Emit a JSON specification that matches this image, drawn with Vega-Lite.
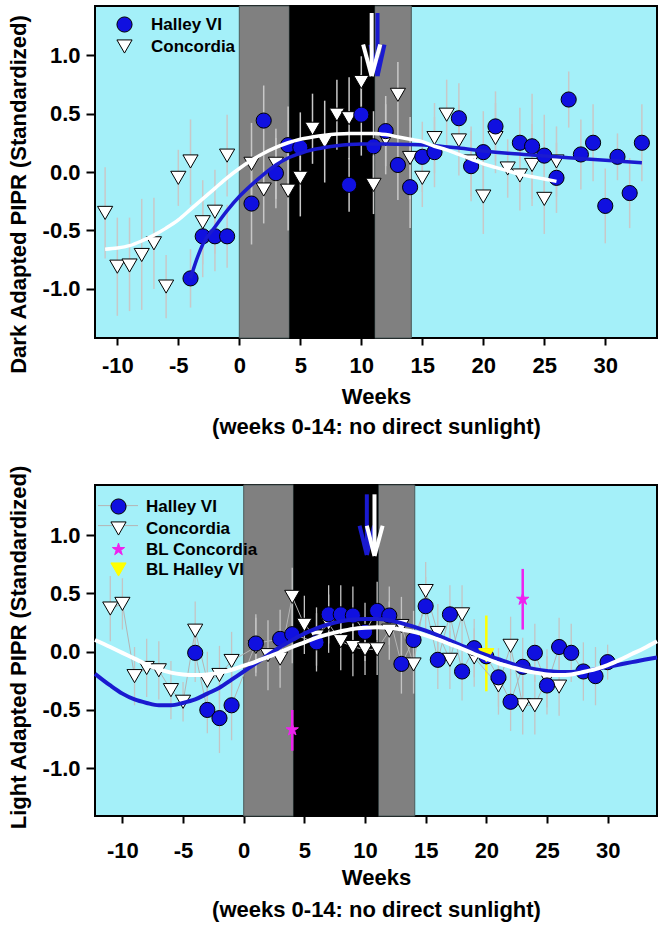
{
  "$schema": "https://vega.github.io/schema/vega-lite/v6.json",
  "padding": {"left": 6, "top": 4, "right": 4, "bottom": 4},
  "config": {
    "font": "Liberation Sans",
    "view": {"stroke": "black", "strokeWidth": 2, "fill": "#a4f0f9"},
    "axis": {"domain": false, "grid": false, "tickColor": "black", "tickWidth": 2, "labelFont": "Liberation Sans", "labelFontWeight": "bold", "labelFontSize": 22, "labelColor": "black", "titleFont": "Liberation Sans", "titleFontWeight": "bold", "titleFontSize": 22, "titleColor": "black"}
  },
  "resolve": {
    "legend": {"fill": "independent", "shape": "independent", "stroke": "independent", "opacity": "independent"}
  },
  "datasets": {
    "bands": [
      {"kind": "twilight", "start": 0, "end": 4.1},
      {"kind": "night", "start": 4.1, "end": 11.1},
      {"kind": "twilight", "start": 11.1, "end": 14.1}
    ],
    "dark": [
      {"series": "Concordia", "week": -11, "value": -0.35, "lo": -0.74, "hi": 0.04},
      {"series": "Concordia", "week": -10, "value": -0.81, "lo": -1.23, "hi": -0.39},
      {"series": "Concordia", "week": -9, "value": -0.80, "lo": -1.19, "hi": -0.39},
      {"series": "Concordia", "week": -8, "value": -0.71, "lo": -1.18, "hi": -0.23},
      {"series": "Concordia", "week": -7, "value": -0.61, "lo": -1.00, "hi": -0.22},
      {"series": "Concordia", "week": -6, "value": -0.98, "lo": -1.25, "hi": -0.71},
      {"series": "Concordia", "week": -5, "value": -0.05, "lo": -0.29, "hi": 0.19},
      {"series": "Concordia", "week": -4, "value": 0.09, "lo": -0.28, "hi": 0.45},
      {"series": "Concordia", "week": -3, "value": -0.43, "lo": -0.79, "hi": -0.07},
      {"series": "Concordia", "week": -2, "value": -0.34, "lo": -0.70, "hi": 0.02},
      {"series": "Concordia", "week": -1, "value": 0.14, "lo": -0.21, "hi": 0.49},
      {"series": "Concordia", "week": 1, "value": 0.07, "lo": -0.28, "hi": 0.42},
      {"series": "Concordia", "week": 2, "value": -0.15, "lo": -0.44, "hi": 0.14},
      {"series": "Concordia", "week": 3, "value": 0.07, "lo": -0.23, "hi": 0.37},
      {"series": "Concordia", "week": 4, "value": -0.16, "lo": -0.50, "hi": 0.18},
      {"series": "Concordia", "week": 5, "value": -0.05, "lo": -0.38, "hi": 0.28},
      {"series": "Concordia", "week": 6, "value": 0.37, "lo": 0.07, "hi": 0.67},
      {"series": "Concordia", "week": 7, "value": 0.26, "lo": -0.09, "hi": 0.61},
      {"series": "Concordia", "week": 8, "value": 0.49, "lo": 0.19, "hi": 0.79},
      {"series": "Concordia", "week": 9, "value": 0.46, "lo": 0.11, "hi": 0.81},
      {"series": "Concordia", "week": 10, "value": 0.77, "lo": 0.47, "hi": 0.99},
      {"series": "Concordia", "week": 11, "value": -0.11, "lo": -0.36, "hi": 0.14},
      {"series": "Concordia", "week": 12, "value": 0.28, "lo": -0.02, "hi": 0.58},
      {"series": "Concordia", "week": 13, "value": 0.66, "lo": 0.36, "hi": 0.94},
      {"series": "Concordia", "week": 14, "value": 0.12, "lo": -0.23, "hi": 0.47},
      {"series": "Concordia", "week": 15, "value": -0.05, "lo": -0.30, "hi": 0.20},
      {"series": "Concordia", "week": 16, "value": 0.29, "lo": -0.01, "hi": 0.59},
      {"series": "Concordia", "week": 17, "value": 0.49, "lo": 0.19, "hi": 0.79},
      {"series": "Concordia", "week": 18, "value": 0.27, "lo": -0.03, "hi": 0.57},
      {"series": "Concordia", "week": 19, "value": 0.09, "lo": -0.21, "hi": 0.39},
      {"series": "Concordia", "week": 20, "value": -0.21, "lo": -0.53, "hi": 0.11},
      {"series": "Concordia", "week": 21, "value": 0.29, "lo": -0.01, "hi": 0.59},
      {"series": "Concordia", "week": 22, "value": 0.03, "lo": -0.22, "hi": 0.28},
      {"series": "Concordia", "week": 23, "value": -0.03, "lo": -0.33, "hi": 0.27},
      {"series": "Concordia", "week": 24, "value": 0.06, "lo": -0.29, "hi": 0.41},
      {"series": "Concordia", "week": 25, "value": -0.23, "lo": -0.53, "hi": 0.07},
      {"series": "Concordia", "week": 26, "value": 0.09, "lo": -0.21, "hi": 0.39},
      {"series": "Halley VI", "week": -4, "value": -0.91, "lo": -1.16, "hi": -0.66},
      {"series": "Halley VI", "week": -3, "value": -0.55, "lo": -0.90, "hi": -0.20},
      {"series": "Halley VI", "week": -2, "value": -0.55, "lo": -0.85, "hi": -0.25},
      {"series": "Halley VI", "week": -1, "value": -0.55, "lo": -0.82, "hi": -0.28},
      {"series": "Halley VI", "week": 1, "value": -0.27, "lo": -0.62, "hi": 0.08},
      {"series": "Halley VI", "week": 2, "value": 0.44, "lo": 0.14, "hi": 0.74},
      {"series": "Halley VI", "week": 3, "value": -0.01, "lo": -0.31, "hi": 0.29},
      {"series": "Halley VI", "week": 4, "value": 0.23, "lo": -0.10, "hi": 0.56},
      {"series": "Halley VI", "week": 5, "value": 0.21, "lo": -0.09, "hi": 0.51},
      {"series": "Halley VI", "week": 9, "value": -0.11, "lo": -0.34, "hi": 0.12},
      {"series": "Halley VI", "week": 10, "value": 0.49, "lo": 0.14, "hi": 0.84},
      {"series": "Halley VI", "week": 11, "value": 0.22, "lo": -0.08, "hi": 0.52},
      {"series": "Halley VI", "week": 12, "value": 0.35, "lo": 0.05, "hi": 0.65},
      {"series": "Halley VI", "week": 13, "value": 0.06, "lo": -0.24, "hi": 0.36},
      {"series": "Halley VI", "week": 14, "value": -0.13, "lo": -0.48, "hi": 0.22},
      {"series": "Halley VI", "week": 15, "value": 0.13, "lo": -0.17, "hi": 0.43},
      {"series": "Halley VI", "week": 16, "value": 0.17, "lo": -0.13, "hi": 0.47},
      {"series": "Halley VI", "week": 18, "value": 0.46, "lo": 0.16, "hi": 0.76},
      {"series": "Halley VI", "week": 19, "value": 0.05, "lo": -0.25, "hi": 0.35},
      {"series": "Halley VI", "week": 20, "value": 0.17, "lo": -0.18, "hi": 0.52},
      {"series": "Halley VI", "week": 21, "value": 0.39, "lo": 0.09, "hi": 0.69},
      {"series": "Halley VI", "week": 23, "value": 0.25, "lo": -0.05, "hi": 0.55},
      {"series": "Halley VI", "week": 24, "value": 0.22, "lo": -0.23, "hi": 0.67},
      {"series": "Halley VI", "week": 25, "value": 0.14, "lo": -0.21, "hi": 0.49},
      {"series": "Halley VI", "week": 26, "value": -0.05, "lo": -0.35, "hi": 0.25},
      {"series": "Halley VI", "week": 27, "value": 0.62, "lo": 0.38, "hi": 0.86},
      {"series": "Halley VI", "week": 28, "value": 0.15, "lo": -0.15, "hi": 0.45},
      {"series": "Halley VI", "week": 29, "value": 0.25, "lo": -0.08, "hi": 0.58},
      {"series": "Halley VI", "week": 30, "value": -0.29, "lo": -0.61, "hi": 0.03},
      {"series": "Halley VI", "week": 31, "value": 0.13, "lo": -0.07, "hi": 0.33},
      {"series": "Halley VI", "week": 32, "value": -0.18, "lo": -0.48, "hi": 0.12},
      {"series": "Halley VI", "week": 33, "value": 0.25, "lo": -0.08, "hi": 0.58}
    ],
    "darkFit": [
      {"series": "Halley VI", "week": -4, "value": -0.91},
      {"series": "Halley VI", "week": -3.5, "value": -0.75},
      {"series": "Halley VI", "week": -3, "value": -0.62},
      {"series": "Halley VI", "week": -2, "value": -0.47},
      {"series": "Halley VI", "week": -1, "value": -0.33},
      {"series": "Halley VI", "week": 0, "value": -0.21},
      {"series": "Halley VI", "week": 1, "value": -0.11},
      {"series": "Halley VI", "week": 2, "value": -0.02},
      {"series": "Halley VI", "week": 3, "value": 0.06},
      {"series": "Halley VI", "week": 4, "value": 0.12},
      {"series": "Halley VI", "week": 5, "value": 0.16},
      {"series": "Halley VI", "week": 6, "value": 0.19},
      {"series": "Halley VI", "week": 7, "value": 0.21},
      {"series": "Halley VI", "week": 8, "value": 0.225},
      {"series": "Halley VI", "week": 9, "value": 0.235},
      {"series": "Halley VI", "week": 10, "value": 0.24},
      {"series": "Halley VI", "week": 12, "value": 0.24},
      {"series": "Halley VI", "week": 14, "value": 0.235},
      {"series": "Halley VI", "week": 16, "value": 0.225},
      {"series": "Halley VI", "week": 18, "value": 0.205},
      {"series": "Halley VI", "week": 20, "value": 0.18},
      {"series": "Halley VI", "week": 22, "value": 0.16},
      {"series": "Halley VI", "week": 24, "value": 0.145},
      {"series": "Halley VI", "week": 26, "value": 0.13},
      {"series": "Halley VI", "week": 28, "value": 0.115},
      {"series": "Halley VI", "week": 30, "value": 0.10},
      {"series": "Halley VI", "week": 33, "value": 0.08},
      {"series": "Concordia", "week": -11, "value": -0.66},
      {"series": "Concordia", "week": -10, "value": -0.65},
      {"series": "Concordia", "week": -9, "value": -0.63},
      {"series": "Concordia", "week": -8, "value": -0.59},
      {"series": "Concordia", "week": -7, "value": -0.54},
      {"series": "Concordia", "week": -6, "value": -0.48},
      {"series": "Concordia", "week": -5, "value": -0.41},
      {"series": "Concordia", "week": -4, "value": -0.32},
      {"series": "Concordia", "week": -3, "value": -0.23},
      {"series": "Concordia", "week": -2, "value": -0.14},
      {"series": "Concordia", "week": -1, "value": -0.05},
      {"series": "Concordia", "week": 0, "value": 0.03},
      {"series": "Concordia", "week": 1, "value": 0.10},
      {"series": "Concordia", "week": 2, "value": 0.16},
      {"series": "Concordia", "week": 3, "value": 0.21},
      {"series": "Concordia", "week": 4, "value": 0.25},
      {"series": "Concordia", "week": 5, "value": 0.28},
      {"series": "Concordia", "week": 6, "value": 0.30},
      {"series": "Concordia", "week": 7, "value": 0.315},
      {"series": "Concordia", "week": 8, "value": 0.325},
      {"series": "Concordia", "week": 9, "value": 0.33},
      {"series": "Concordia", "week": 11, "value": 0.33},
      {"series": "Concordia", "week": 12, "value": 0.32},
      {"series": "Concordia", "week": 13, "value": 0.30},
      {"series": "Concordia", "week": 14, "value": 0.28},
      {"series": "Concordia", "week": 15, "value": 0.26},
      {"series": "Concordia", "week": 16, "value": 0.22},
      {"series": "Concordia", "week": 17, "value": 0.19},
      {"series": "Concordia", "week": 18, "value": 0.15},
      {"series": "Concordia", "week": 19, "value": 0.11},
      {"series": "Concordia", "week": 20, "value": 0.07},
      {"series": "Concordia", "week": 21, "value": 0.04},
      {"series": "Concordia", "week": 22, "value": 0.01},
      {"series": "Concordia", "week": 23, "value": -0.02},
      {"series": "Concordia", "week": 24, "value": -0.04},
      {"series": "Concordia", "week": 25, "value": -0.06},
      {"series": "Concordia", "week": 26, "value": -0.08}
    ],
    "darkArrows": [
      {"series": "blue", "x": 11.33, "y": 1.36, "x2": 11.33, "y2": 0.83},
      {"series": "blue", "x": 10.75, "y": 1.09, "x2": 11.33, "y2": 0.82},
      {"series": "blue", "x": 11.9, "y": 1.09, "x2": 11.33, "y2": 0.82},
      {"series": "white", "x": 10.85, "y": 1.36, "x2": 10.85, "y2": 0.83},
      {"series": "white", "x": 10.15, "y": 1.09, "x2": 10.85, "y2": 0.82},
      {"series": "white", "x": 11.55, "y": 1.09, "x2": 10.85, "y2": 0.82}
    ],
    "light": [
      {"series": "Concordia", "week": -11, "value": 0.37, "lo": 0.09, "hi": 0.65},
      {"series": "Concordia", "week": -10, "value": 0.41, "lo": 0.19, "hi": 0.63},
      {"series": "Concordia", "week": -9, "value": -0.21, "lo": -0.46, "hi": 0.04},
      {"series": "Concordia", "week": -8, "value": -0.14, "lo": -0.39, "hi": 0.11},
      {"series": "Concordia", "week": -7, "value": -0.16, "lo": -0.41, "hi": 0.09},
      {"series": "Concordia", "week": -6, "value": -0.33, "lo": -0.58, "hi": -0.08},
      {"series": "Concordia", "week": -5, "value": -0.43, "lo": -0.60, "hi": -0.26},
      {"series": "Concordia", "week": -4, "value": 0.18, "lo": -0.07, "hi": 0.43},
      {"series": "Concordia", "week": -3, "value": -0.25, "lo": -0.50, "hi": 0.00},
      {"series": "Concordia", "week": -2, "value": -0.20, "lo": -0.45, "hi": 0.05},
      {"series": "Concordia", "week": -1, "value": -0.08, "lo": -0.33, "hi": 0.17},
      {"series": "Concordia", "week": 1, "value": 0.04, "lo": -0.21, "hi": 0.29},
      {"series": "Concordia", "week": 2, "value": -0.03, "lo": -0.33, "hi": 0.27},
      {"series": "Concordia", "week": 3, "value": -0.06, "lo": -0.31, "hi": 0.19},
      {"series": "Concordia", "week": 4, "value": 0.47, "lo": 0.22, "hi": 0.72},
      {"series": "Concordia", "week": 5, "value": 0.23, "lo": -0.02, "hi": 0.48},
      {"series": "Concordia", "week": 6, "value": 0.13, "lo": -0.12, "hi": 0.38},
      {"series": "Concordia", "week": 7, "value": 0.24, "lo": -0.01, "hi": 0.49},
      {"series": "Concordia", "week": 8, "value": 0.09, "lo": -0.16, "hi": 0.34},
      {"series": "Concordia", "week": 9, "value": 0.04, "lo": -0.21, "hi": 0.29},
      {"series": "Concordia", "week": 10, "value": 0.02, "lo": -0.20, "hi": 0.24},
      {"series": "Concordia", "week": 11, "value": 0.02, "lo": -0.20, "hi": 0.24},
      {"series": "Concordia", "week": 12, "value": 0.18, "lo": -0.07, "hi": 0.43},
      {"series": "Concordia", "week": 13, "value": 0.22, "lo": -0.03, "hi": 0.47},
      {"series": "Concordia", "week": 14, "value": -0.11, "lo": -0.36, "hi": 0.14},
      {"series": "Concordia", "week": 15, "value": 0.52, "lo": 0.27, "hi": 0.77},
      {"series": "Concordia", "week": 16, "value": 0.16, "lo": -0.09, "hi": 0.41},
      {"series": "Concordia", "week": 17, "value": -0.07, "lo": -0.32, "hi": 0.18},
      {"series": "Concordia", "week": 18, "value": 0.32, "lo": 0.07, "hi": 0.57},
      {"series": "Concordia", "week": 19, "value": -0.05, "lo": -0.30, "hi": 0.20},
      {"series": "Concordia", "week": 21, "value": -0.29, "lo": -0.54, "hi": -0.04},
      {"series": "Concordia", "week": 22, "value": 0.05, "lo": -0.20, "hi": 0.30},
      {"series": "Concordia", "week": 23, "value": -0.46, "lo": -0.71, "hi": -0.21},
      {"series": "Concordia", "week": 24, "value": -0.46, "lo": -0.71, "hi": -0.21},
      {"series": "Concordia", "week": 25, "value": -0.23, "lo": -0.48, "hi": 0.02},
      {"series": "Concordia", "week": 26, "value": -0.30, "lo": -0.55, "hi": -0.05},
      {"series": "Halley VI", "week": -4, "value": -0.01, "lo": -0.26, "hi": 0.24},
      {"series": "Halley VI", "week": -3, "value": -0.50, "lo": -0.70, "hi": -0.30},
      {"series": "Halley VI", "week": -2, "value": -0.57, "lo": -0.87, "hi": -0.27},
      {"series": "Halley VI", "week": -1, "value": -0.46, "lo": -0.76, "hi": -0.16},
      {"series": "Halley VI", "week": 1, "value": 0.07, "lo": -0.18, "hi": 0.32},
      {"series": "Halley VI", "week": 3, "value": 0.11, "lo": -0.14, "hi": 0.36},
      {"series": "Halley VI", "week": 4, "value": 0.15, "lo": -0.10, "hi": 0.40},
      {"series": "Halley VI", "week": 6, "value": 0.08, "lo": -0.17, "hi": 0.33},
      {"series": "Halley VI", "week": 7, "value": 0.32, "lo": 0.07, "hi": 0.57},
      {"series": "Halley VI", "week": 8, "value": 0.32, "lo": 0.07, "hi": 0.57},
      {"series": "Halley VI", "week": 9, "value": 0.31, "lo": 0.06, "hi": 0.56},
      {"series": "Halley VI", "week": 10, "value": 0.17, "lo": -0.08, "hi": 0.42},
      {"series": "Halley VI", "week": 11, "value": 0.35, "lo": 0.10, "hi": 0.60},
      {"series": "Halley VI", "week": 12, "value": 0.31, "lo": 0.06, "hi": 0.56},
      {"series": "Halley VI", "week": 13, "value": -0.105, "lo": -0.36, "hi": 0.15},
      {"series": "Halley VI", "week": 14, "value": 0.10, "lo": -0.15, "hi": 0.35},
      {"series": "Halley VI", "week": 15, "value": 0.39, "lo": 0.14, "hi": 0.64},
      {"series": "Halley VI", "week": 16, "value": -0.07, "lo": -0.32, "hi": 0.18},
      {"series": "Halley VI", "week": 17, "value": 0.32, "lo": 0.07, "hi": 0.57},
      {"series": "Halley VI", "week": 18, "value": -0.17, "lo": -0.42, "hi": 0.08},
      {"series": "Halley VI", "week": 19, "value": 0.03, "lo": -0.22, "hi": 0.28},
      {"series": "Halley VI", "week": 20, "value": -0.04, "lo": -0.29, "hi": 0.21},
      {"series": "Halley VI", "week": 21, "value": -0.22, "lo": -0.47, "hi": 0.03},
      {"series": "Halley VI", "week": 22, "value": -0.43, "lo": -0.68, "hi": -0.18},
      {"series": "Halley VI", "week": 23, "value": -0.13, "lo": -0.38, "hi": 0.12},
      {"series": "Halley VI", "week": 24, "value": -0.01, "lo": -0.26, "hi": 0.24},
      {"series": "Halley VI", "week": 25, "value": -0.29, "lo": -0.54, "hi": -0.04},
      {"series": "Halley VI", "week": 26, "value": 0.04, "lo": -0.21, "hi": 0.29},
      {"series": "Halley VI", "week": 27, "value": -0.01, "lo": -0.26, "hi": 0.24},
      {"series": "Halley VI", "week": 28, "value": -0.17, "lo": -0.42, "hi": 0.08},
      {"series": "Halley VI", "week": 29, "value": -0.21, "lo": -0.46, "hi": 0.04},
      {"series": "Halley VI", "week": 30, "value": -0.09, "lo": -0.24, "hi": 0.06},
      {"series": "BL Concordia", "week": 4, "value": -0.67, "lo": -0.85, "hi": -0.50},
      {"series": "BL Concordia", "week": 23, "value": 0.45, "lo": 0.19, "hi": 0.71},
      {"series": "BL Halley VI", "week": 20, "value": -0.03, "lo": -0.34, "hi": 0.31}
    ],
    "lightFit": [
      {"series": "Halley VI", "week": -12.26, "value": -0.19},
      {"series": "Halley VI", "week": -11, "value": -0.29},
      {"series": "Halley VI", "week": -10, "value": -0.36},
      {"series": "Halley VI", "week": -9, "value": -0.41},
      {"series": "Halley VI", "week": -8, "value": -0.44},
      {"series": "Halley VI", "week": -7, "value": -0.46},
      {"series": "Halley VI", "week": -6, "value": -0.46},
      {"series": "Halley VI", "week": -5, "value": -0.44},
      {"series": "Halley VI", "week": -4, "value": -0.41},
      {"series": "Halley VI", "week": -3, "value": -0.36},
      {"series": "Halley VI", "week": -2, "value": -0.31},
      {"series": "Halley VI", "week": -1, "value": -0.24},
      {"series": "Halley VI", "week": 0, "value": -0.17},
      {"series": "Halley VI", "week": 1, "value": -0.10},
      {"series": "Halley VI", "week": 2, "value": -0.03},
      {"series": "Halley VI", "week": 3, "value": 0.04},
      {"series": "Halley VI", "week": 4, "value": 0.10},
      {"series": "Halley VI", "week": 5, "value": 0.155},
      {"series": "Halley VI", "week": 6, "value": 0.20},
      {"series": "Halley VI", "week": 7, "value": 0.235},
      {"series": "Halley VI", "week": 8, "value": 0.26},
      {"series": "Halley VI", "week": 9, "value": 0.275},
      {"series": "Halley VI", "week": 10, "value": 0.28},
      {"series": "Halley VI", "week": 11, "value": 0.28},
      {"series": "Halley VI", "week": 12, "value": 0.27},
      {"series": "Halley VI", "week": 13, "value": 0.245},
      {"series": "Halley VI", "week": 14, "value": 0.215},
      {"series": "Halley VI", "week": 15, "value": 0.18},
      {"series": "Halley VI", "week": 16, "value": 0.14},
      {"series": "Halley VI", "week": 17, "value": 0.095},
      {"series": "Halley VI", "week": 18, "value": 0.05},
      {"series": "Halley VI", "week": 19, "value": 0.01},
      {"series": "Halley VI", "week": 20, "value": -0.03},
      {"series": "Halley VI", "week": 21, "value": -0.065},
      {"series": "Halley VI", "week": 22, "value": -0.10},
      {"series": "Halley VI", "week": 23, "value": -0.13},
      {"series": "Halley VI", "week": 24, "value": -0.15},
      {"series": "Halley VI", "week": 25, "value": -0.165},
      {"series": "Halley VI", "week": 26, "value": -0.175},
      {"series": "Halley VI", "week": 27, "value": -0.175},
      {"series": "Halley VI", "week": 28, "value": -0.165},
      {"series": "Halley VI", "week": 29, "value": -0.15},
      {"series": "Halley VI", "week": 30, "value": -0.13},
      {"series": "Halley VI", "week": 31, "value": -0.11},
      {"series": "Halley VI", "week": 32, "value": -0.09},
      {"series": "Halley VI", "week": 33, "value": -0.07},
      {"series": "Halley VI", "week": 34.07, "value": -0.05},
      {"series": "Concordia", "week": -12.26, "value": 0.10},
      {"series": "Concordia", "week": -11, "value": 0.04},
      {"series": "Concordia", "week": -10, "value": -0.01},
      {"series": "Concordia", "week": -9, "value": -0.06},
      {"series": "Concordia", "week": -8, "value": -0.11},
      {"series": "Concordia", "week": -7, "value": -0.15},
      {"series": "Concordia", "week": -6, "value": -0.18},
      {"series": "Concordia", "week": -5, "value": -0.195},
      {"series": "Concordia", "week": -4, "value": -0.20},
      {"series": "Concordia", "week": -3, "value": -0.195},
      {"series": "Concordia", "week": -2, "value": -0.18},
      {"series": "Concordia", "week": -1, "value": -0.155},
      {"series": "Concordia", "week": 0, "value": -0.12},
      {"series": "Concordia", "week": 1, "value": -0.085},
      {"series": "Concordia", "week": 2, "value": -0.045},
      {"series": "Concordia", "week": 3, "value": -0.005},
      {"series": "Concordia", "week": 4, "value": 0.04},
      {"series": "Concordia", "week": 5, "value": 0.08},
      {"series": "Concordia", "week": 6, "value": 0.12},
      {"series": "Concordia", "week": 7, "value": 0.15},
      {"series": "Concordia", "week": 8, "value": 0.175},
      {"series": "Concordia", "week": 9, "value": 0.195},
      {"series": "Concordia", "week": 10, "value": 0.205},
      {"series": "Concordia", "week": 11, "value": 0.21},
      {"series": "Concordia", "week": 12, "value": 0.205},
      {"series": "Concordia", "week": 13, "value": 0.19},
      {"series": "Concordia", "week": 14, "value": 0.17},
      {"series": "Concordia", "week": 15, "value": 0.14},
      {"series": "Concordia", "week": 16, "value": 0.105},
      {"series": "Concordia", "week": 17, "value": 0.065},
      {"series": "Concordia", "week": 18, "value": 0.025},
      {"series": "Concordia", "week": 19, "value": -0.02},
      {"series": "Concordia", "week": 20, "value": -0.06},
      {"series": "Concordia", "week": 21, "value": -0.10},
      {"series": "Concordia", "week": 22, "value": -0.13},
      {"series": "Concordia", "week": 23, "value": -0.16},
      {"series": "Concordia", "week": 24, "value": -0.18},
      {"series": "Concordia", "week": 25, "value": -0.195},
      {"series": "Concordia", "week": 26, "value": -0.20},
      {"series": "Concordia", "week": 27, "value": -0.195},
      {"series": "Concordia", "week": 28, "value": -0.175},
      {"series": "Concordia", "week": 29, "value": -0.15},
      {"series": "Concordia", "week": 30, "value": -0.115},
      {"series": "Concordia", "week": 31, "value": -0.07},
      {"series": "Concordia", "week": 32, "value": -0.02},
      {"series": "Concordia", "week": 33, "value": 0.03},
      {"series": "Concordia", "week": 34.07, "value": 0.09}
    ],
    "lightArrows": [
      {"series": "blue", "x": 10.15, "y": 1.35, "x2": 10.15, "y2": 0.83},
      {"series": "blue", "x": 9.55, "y": 1.08, "x2": 10.15, "y2": 0.83},
      {"series": "blue", "x": 10.75, "y": 1.08, "x2": 10.15, "y2": 0.83},
      {"series": "white", "x": 10.78, "y": 1.35, "x2": 10.78, "y2": 0.83},
      {"series": "white", "x": 10.15, "y": 1.08, "x2": 10.78, "y2": 0.82},
      {"series": "white", "x": 11.45, "y": 1.08, "x2": 10.78, "y2": 0.82}
    ]
  },
  "vconcat": [
    {
      "width": 562,
      "height": 332,
      "layer": [
        {
          "data": {"name": "bands"},
          "transform": [{"filter": "datum.kind == 'twilight'"}],
          "mark": {"type": "rect", "color": "#808080", "stroke": "#4a5a5a", "strokeWidth": 1},
          "encoding": {
            "x": {"field": "start", "type": "quantitative", "title": ["Weeks", "(weeks 0-14: no direct sunlight)"], "scale": {"domain": [-11.83, 34.24], "nice": false, "zero": false},
              "axis": {"values": [-10, -5, 0, 5, 10, 15, 20, 25, 30], "tickSize": 7, "labelPadding": 10, "labelExpr": "datum.value < 0 ? '-' + format(-datum.value, 'd') : format(datum.value, 'd')", "titlePadding": 10, "titleLineHeight": 30}},
            "x2": {"field": "end"}
          }
        },
        {
          "data": {"name": "bands"},
          "transform": [{"filter": "datum.kind == 'night'"}],
          "mark": {"type": "rect", "color": "#000000"},
          "encoding": {
            "x": {"field": "start", "type": "quantitative", "title": ["Weeks", "(weeks 0-14: no direct sunlight)"], "scale": {"domain": [-11.83, 34.24], "nice": false, "zero": false}},
            "x2": {"field": "end"}
          }
        },
        {
          "data": {"name": "dark"},
          "mark": {"type": "rule", "color": "#c8c8c8", "strokeWidth": 1.5},
          "encoding": {
            "x": {"field": "week", "type": "quantitative", "title": ["Weeks", "(weeks 0-14: no direct sunlight)"], "scale": {"domain": [-11.83, 34.24], "nice": false, "zero": false}},
            "y": {"field": "lo", "type": "quantitative", "title": "Dark Adapted PIPR (Standardized)", "scale": {"domain": [-1.42, 1.42], "nice": false, "zero": false},
              "axis": {"values": [-1, -0.5, 0, 0.5, 1], "tickSize": 9, "labelPadding": 6, "labelExpr": "datum.value < 0 ? '-' + format(-datum.value, '.1f') : format(datum.value, '.1f')", "titlePadding": 12, "titleY": 188}},
            "y2": {"field": "hi"}
          }
        },
        {
          "data": {"name": "dark"},
          "mark": {"type": "point", "filled": true, "size": 230, "strokeWidth": 1, "opacity": 1},
          "encoding": {
            "x": {"field": "week", "type": "quantitative", "title": ["Weeks", "(weeks 0-14: no direct sunlight)"], "scale": {"domain": [-11.83, 34.24], "nice": false, "zero": false}},
            "y": {"field": "value", "type": "quantitative", "title": "Dark Adapted PIPR (Standardized)", "scale": {"domain": [-1.42, 1.42], "nice": false, "zero": false}},
            "fill": {"field": "series", "type": "nominal", "scale": {"domain": ["Halley VI", "Concordia", "BL Concordia", "BL Halley VI"], "range": ["#1010e0", "#ffffff", "#ee22ee", "#ffff00"]},
              "legend": {"values": ["Halley VI", "Concordia"], "orient": "none", "legendX": 21, "legendY": 10, "title": null, "labelFont": "Liberation Sans", "labelFontSize": 17, "labelFontWeight": "bold", "labelColor": "black", "symbolSize": 230, "symbolStrokeWidth": 1, "rowPadding": 2, "labelOffset": 18, "padding": 0}},
            "shape": {"field": "series", "type": "nominal", "scale": {"domain": ["Halley VI", "Concordia", "BL Concordia", "BL Halley VI"], "range": ["circle", "triangle-down", "M0,-0.85L0.19,-0.26L0.81,-0.26L0.31,0.1L0.5,0.69L0,0.32L-0.5,0.69L-0.31,0.1L-0.81,-0.26L-0.19,-0.26Z", "triangle-down"]},
              "legend": {"values": ["Halley VI", "Concordia"], "orient": "none", "legendX": 21, "legendY": 10, "title": null, "labelFont": "Liberation Sans", "labelFontSize": 17, "labelFontWeight": "bold", "labelColor": "black", "symbolSize": 230, "symbolStrokeWidth": 1, "rowPadding": 2, "labelOffset": 18, "padding": 0}},
            "stroke": {"field": "series", "type": "nominal", "scale": {"domain": ["Halley VI", "Concordia", "BL Concordia", "BL Halley VI"], "range": ["#000000", "#000000", "#ee22ee", "#ffff00"]},
              "legend": {"values": ["Halley VI", "Concordia"], "orient": "none", "legendX": 21, "legendY": 10, "title": null, "labelFont": "Liberation Sans", "labelFontSize": 17, "labelFontWeight": "bold", "labelColor": "black", "symbolSize": 230, "symbolStrokeWidth": 1, "rowPadding": 2, "labelOffset": 18, "padding": 0}}
          }
        },
        {
          "data": {"name": "darkFit"},
          "transform": [{"filter": "datum.series == 'Halley VI'"}],
          "mark": {"type": "line", "color": "#1a1ad0", "strokeWidth": 3.5, "interpolate": "monotone"},
          "encoding": {
            "x": {"field": "week", "type": "quantitative", "title": ["Weeks", "(weeks 0-14: no direct sunlight)"], "scale": {"domain": [-11.83, 34.24], "nice": false, "zero": false}},
            "y": {"field": "value", "type": "quantitative", "title": "Dark Adapted PIPR (Standardized)", "scale": {"domain": [-1.42, 1.42], "nice": false, "zero": false}}
          }
        },
        {
          "data": {"name": "darkFit"},
          "transform": [{"filter": "datum.series == 'Concordia'"}],
          "mark": {"type": "line", "color": "#ffffff", "strokeWidth": 3.5, "interpolate": "monotone"},
          "encoding": {
            "x": {"field": "week", "type": "quantitative", "title": ["Weeks", "(weeks 0-14: no direct sunlight)"], "scale": {"domain": [-11.83, 34.24], "nice": false, "zero": false}},
            "y": {"field": "value", "type": "quantitative", "title": "Dark Adapted PIPR (Standardized)", "scale": {"domain": [-1.42, 1.42], "nice": false, "zero": false}}
          }
        },
        {
          "data": {"name": "darkArrows"},
          "mark": {"type": "rule", "strokeWidth": 4},
          "encoding": {
            "x": {"field": "x", "type": "quantitative", "title": ["Weeks", "(weeks 0-14: no direct sunlight)"], "scale": {"domain": [-11.83, 34.24], "nice": false, "zero": false}},
            "y": {"field": "y", "type": "quantitative", "title": "Dark Adapted PIPR (Standardized)", "scale": {"domain": [-1.42, 1.42], "nice": false, "zero": false}},
            "x2": {"field": "x2"},
            "y2": {"field": "y2"},
            "color": {"condition": {"test": "datum.series == 'white'", "value": "#ffffff"}, "value": "#1a1ad0"}
          }
        }
      ]
    },
    {
      "width": 562,
      "height": 331,
      "layer": [
        {
          "data": {"name": "bands"},
          "transform": [{"filter": "datum.kind == 'twilight'"}],
          "mark": {"type": "rect", "color": "#808080", "stroke": "#4a5a5a", "strokeWidth": 1},
          "encoding": {
            "x": {"field": "start", "type": "quantitative", "title": ["Weeks", "(weeks 0-14: no direct sunlight)"], "scale": {"domain": [-12.26, 34.07], "nice": false, "zero": false},
              "axis": {"values": [-10, -5, 0, 5, 10, 15, 20, 25, 30], "tickSize": 7, "labelPadding": 17, "labelExpr": "datum.value < 0 ? '-' + format(-datum.value, 'd') : format(datum.value, 'd')", "titlePadding": 6, "titleLineHeight": 32}},
            "x2": {"field": "end"}
          }
        },
        {
          "data": {"name": "bands"},
          "transform": [{"filter": "datum.kind == 'night'"}],
          "mark": {"type": "rect", "color": "#000000"},
          "encoding": {
            "x": {"field": "start", "type": "quantitative", "title": ["Weeks", "(weeks 0-14: no direct sunlight)"], "scale": {"domain": [-12.26, 34.07], "nice": false, "zero": false}},
            "x2": {"field": "end"}
          }
        },
        {
          "data": {"name": "light"},
          "mark": {"type": "rule"},
          "encoding": {
            "x": {"field": "week", "type": "quantitative", "title": ["Weeks", "(weeks 0-14: no direct sunlight)"], "scale": {"domain": [-12.26, 34.07], "nice": false, "zero": false}},
            "y": {"field": "lo", "type": "quantitative", "title": "Light Adapted PIPR (Standardized)", "scale": {"domain": [-1.41, 1.43], "nice": false, "zero": false},
              "axis": {"values": [-1, -0.5, 0, 0.5, 1], "tickSize": 9, "labelPadding": 6, "labelExpr": "datum.value < 0 ? '-' + format(-datum.value, '.1f') : format(datum.value, '.1f')", "titlePadding": 12, "titleY": 162}},
            "y2": {"field": "hi"},
            "color": {"condition": [{"test": "datum.series == 'BL Concordia'", "value": "#ee22ee"}, {"test": "datum.series == 'BL Halley VI'", "value": "#ffff00"}], "value": "#c4c4c4"},
            "strokeWidth": {"condition": {"test": "indexof(datum.series, 'BL') == 0", "value": 2.5}, "value": 1.3}
          }
        },
        {
          "data": {"name": "light"},
          "transform": [{"filter": "indexof(datum.series, 'BL') != 0"}],
          "mark": {"type": "line", "color": "#b4b4b4", "strokeWidth": 1},
          "encoding": {
            "x": {"field": "week", "type": "quantitative", "title": ["Weeks", "(weeks 0-14: no direct sunlight)"], "scale": {"domain": [-12.26, 34.07], "nice": false, "zero": false}},
            "y": {"field": "value", "type": "quantitative", "title": "Light Adapted PIPR (Standardized)", "scale": {"domain": [-1.41, 1.43], "nice": false, "zero": false}},
            "opacity": {"field": "series", "type": "nominal", "scale": {"domain": ["Halley VI", "Concordia"], "range": [1, 1]},
              "legend": {"orient": "none", "legendX": 2.5, "legendY": 13, "title": null, "symbolType": "stroke", "symbolStrokeColor": "#b4b4b4", "symbolStrokeWidth": 1, "symbolSize": 1600, "clipHeight": 15.2, "labelFontSize": 17, "labelFontWeight": "bold", "labelExpr": "''", "rowPadding": 2, "padding": 0}}
          }
        },
        {
          "data": {"name": "light"},
          "mark": {"type": "point", "filled": true, "size": 230, "strokeWidth": 1, "opacity": 1},
          "encoding": {
            "x": {"field": "week", "type": "quantitative", "title": ["Weeks", "(weeks 0-14: no direct sunlight)"], "scale": {"domain": [-12.26, 34.07], "nice": false, "zero": false}},
            "y": {"field": "value", "type": "quantitative", "title": "Light Adapted PIPR (Standardized)", "scale": {"domain": [-1.41, 1.43], "nice": false, "zero": false}},
            "fill": {"field": "series", "type": "nominal", "scale": {"domain": ["Halley VI", "Concordia", "BL Concordia", "BL Halley VI"], "range": ["#1010e0", "#ffffff", "#ee22ee", "#ffff00"]},
              "legend": {"values": ["Halley VI", "Concordia", "BL Concordia", "BL Halley VI"], "orient": "none", "legendX": 15, "legendY": 13, "title": null, "labelFont": "Liberation Sans", "labelFontSize": 17, "labelFontWeight": "bold", "labelColor": "black", "symbolSize": 230, "symbolStrokeWidth": 1, "rowPadding": 2, "labelOffset": 19, "padding": 0}},
            "shape": {"field": "series", "type": "nominal", "scale": {"domain": ["Halley VI", "Concordia", "BL Concordia", "BL Halley VI"], "range": ["circle", "triangle-down", "M0,-0.85L0.19,-0.26L0.81,-0.26L0.31,0.1L0.5,0.69L0,0.32L-0.5,0.69L-0.31,0.1L-0.81,-0.26L-0.19,-0.26Z", "triangle-down"]},
              "legend": {"values": ["Halley VI", "Concordia", "BL Concordia", "BL Halley VI"], "orient": "none", "legendX": 15, "legendY": 13, "title": null, "labelFont": "Liberation Sans", "labelFontSize": 17, "labelFontWeight": "bold", "labelColor": "black", "symbolSize": 230, "symbolStrokeWidth": 1, "rowPadding": 2, "labelOffset": 19, "padding": 0}},
            "stroke": {"field": "series", "type": "nominal", "scale": {"domain": ["Halley VI", "Concordia", "BL Concordia", "BL Halley VI"], "range": ["#000000", "#000000", "#ee22ee", "#ffff00"]},
              "legend": {"values": ["Halley VI", "Concordia", "BL Concordia", "BL Halley VI"], "orient": "none", "legendX": 15, "legendY": 13, "title": null, "labelFont": "Liberation Sans", "labelFontSize": 17, "labelFontWeight": "bold", "labelColor": "black", "symbolSize": 230, "symbolStrokeWidth": 1, "rowPadding": 2, "labelOffset": 19, "padding": 0}}
          }
        },
        {
          "data": {"name": "lightFit"},
          "transform": [{"filter": "datum.series == 'Halley VI'"}],
          "mark": {"type": "line", "color": "#1a1ad0", "strokeWidth": 4, "interpolate": "monotone"},
          "encoding": {
            "x": {"field": "week", "type": "quantitative", "title": ["Weeks", "(weeks 0-14: no direct sunlight)"], "scale": {"domain": [-12.26, 34.07], "nice": false, "zero": false}},
            "y": {"field": "value", "type": "quantitative", "title": "Light Adapted PIPR (Standardized)", "scale": {"domain": [-1.41, 1.43], "nice": false, "zero": false}}
          }
        },
        {
          "data": {"name": "lightFit"},
          "transform": [{"filter": "datum.series == 'Concordia'"}],
          "mark": {"type": "line", "color": "#ffffff", "strokeWidth": 4, "interpolate": "monotone"},
          "encoding": {
            "x": {"field": "week", "type": "quantitative", "title": ["Weeks", "(weeks 0-14: no direct sunlight)"], "scale": {"domain": [-12.26, 34.07], "nice": false, "zero": false}},
            "y": {"field": "value", "type": "quantitative", "title": "Light Adapted PIPR (Standardized)", "scale": {"domain": [-1.41, 1.43], "nice": false, "zero": false}}
          }
        },
        {
          "data": {"name": "lightArrows"},
          "mark": {"type": "rule", "strokeWidth": 4},
          "encoding": {
            "x": {"field": "x", "type": "quantitative", "title": ["Weeks", "(weeks 0-14: no direct sunlight)"], "scale": {"domain": [-12.26, 34.07], "nice": false, "zero": false}},
            "y": {"field": "y", "type": "quantitative", "title": "Light Adapted PIPR (Standardized)", "scale": {"domain": [-1.41, 1.43], "nice": false, "zero": false}},
            "x2": {"field": "x2"},
            "y2": {"field": "y2"},
            "color": {"condition": {"test": "datum.series == 'white'", "value": "#ffffff"}, "value": "#1a1ad0"}
          }
        }
      ]
    }
  ],
  "spacing": 25
}
